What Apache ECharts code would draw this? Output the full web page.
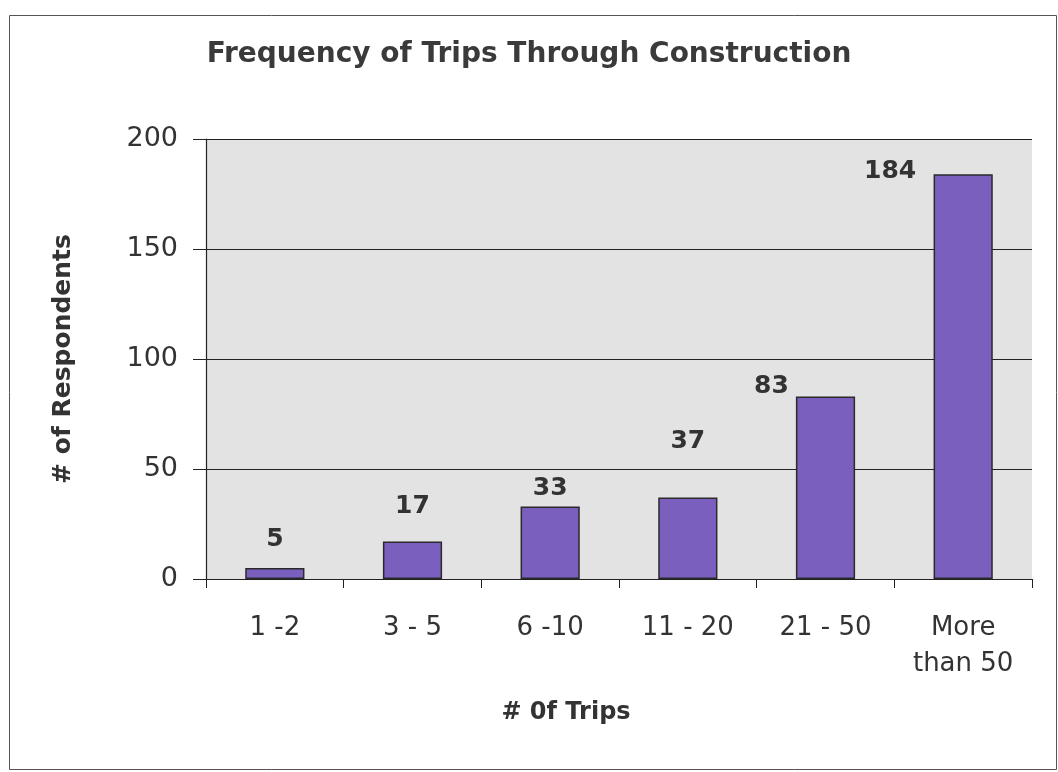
<!DOCTYPE html>
<html>
<head>
<meta charset="utf-8">
<script src="https://cdn.jsdelivr.net/npm/echarts@6/dist/echarts.min.js"></script>
<style>
html,body{margin:0;padding:0;background:#fff;}
#chart{width:1058px;height:772px;}
</style>
</head>
<body>
<div id="chart"></div>
<script>
const categories = ["1 -2", "3 - 5", "6 -10", "11 - 20", "21 - 50", "More\nthan 50"];
const respondents = [5, 17, 33, 37, 83, 184];
const yTicks = [0, 50, 100, 150, 200];
const labelOffsets = [[0, -11], [0, -18], [0, 0], [0, -39], [-54, 8], [-73, 15]];

const chart = echarts.init(document.getElementById('chart'), null, {renderer: 'canvas'});
const font = '"DejaVu Sans", Verdana, sans-serif';
chart.setOption({
  backgroundColor: '#ffffff',
  title: {
    text: 'Frequency of Trips Through Construction',
    left: 'center', top: 36,
    textStyle: {fontFamily: font, fontSize: 28, fontWeight: 'bold', color: '#3a3a3a'}
  },
  graphic: [{
    type: 'rect', left: 7, top: 13, z: -1,
    shape: {width: 1047, height: 754},
    style: {fill: 'none', stroke: '#555', lineWidth: 1}
  }],
  grid: {left: 206, right: 26, top: 139, bottom: 193, show: true, backgroundColor: '#e3e3e3', borderWidth: 0},
  xAxis: {
    type: 'category',
    data: categories,
    name: '# 0f Trips',
    nameLocation: 'middle',
    nameGap: 122,
    nameTextStyle: {fontFamily: font, fontSize: 24, fontWeight: 'bold', color: '#333', padding: [0, 106, 0, 0]},
    axisLine: {lineStyle: {color: '#222', width: 1.2}},
    axisTick: {show: true, length: 9, lineStyle: {color: '#222'}},
    axisLabel: {fontFamily: font, fontSize: 26, color: '#333', margin: 31, lineHeight: 36}
  },
  yAxis: {
    type: 'value',
    min: 0, max: 200, interval: 50,
    name: '# of Respondents',
    nameLocation: 'middle',
    nameGap: 130,
    nameRotate: 90,
    nameTextStyle: {fontFamily: font, fontSize: 25, fontWeight: 'bold', color: '#333'},
    axisLine: {show: true, lineStyle: {color: '#222', width: 1.2}},
    axisTick: {show: true, length: 13, lineStyle: {color: '#222'}},
    splitLine: {show: true, lineStyle: {color: '#222', width: 1}},
    axisLabel: {fontFamily: font, fontSize: 27, color: '#333', margin: 28,
      formatter: v => yTicks.includes(v) ? String(v) : ''}
  },
  series: [{
    type: 'bar',
    barWidth: '43%',
    data: respondents.map((v, i) => ({
      value: v,
      label: {offset: labelOffsets[i]}
    })),
    itemStyle: {color: '#7b5fbf', borderColor: '#2a2a2a', borderWidth: 1.5},
    label: {
      show: true, position: 'top', distance: 5,
      fontFamily: font, fontSize: 25, fontWeight: 'bold', color: '#333'
    }
  }]
});
</script>
</body>
</html>
